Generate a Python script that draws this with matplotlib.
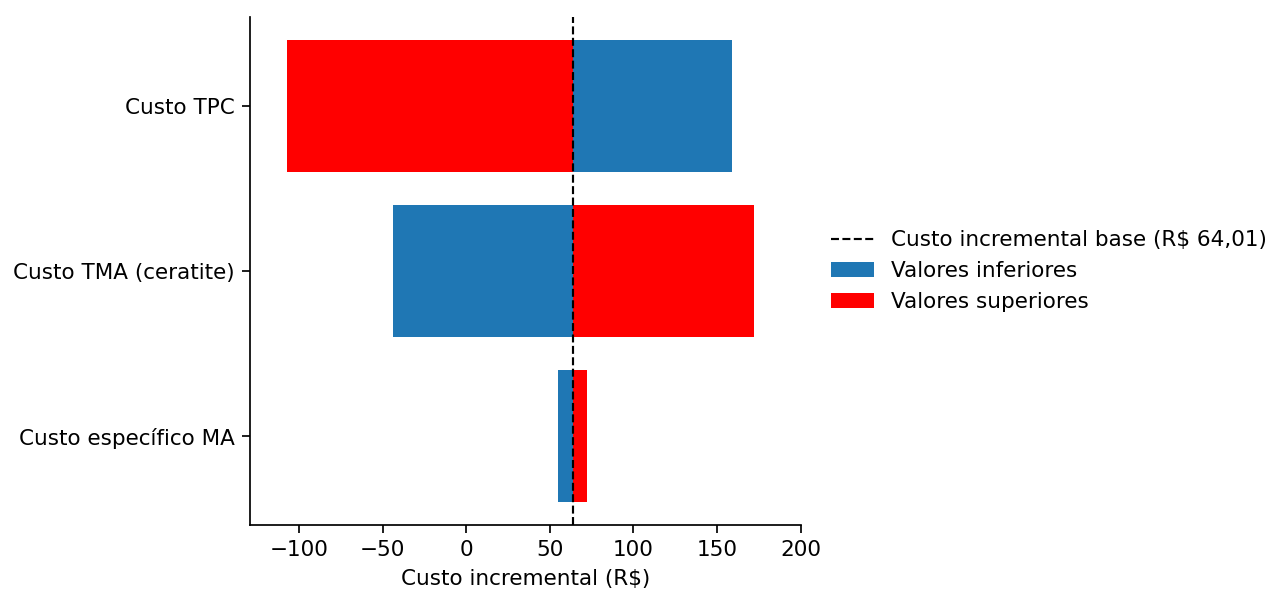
import numpy as np
import matplotlib.pyplot as plt

categorias = ['Custo específico MA', 'Custo TMA (ceratite)', 'Custo TPC']
valores_inferiores = [55.1, -43.7, 158.7]
valores_superiores = [72.5, 171.9, -107.2]
base = 64.01

DPI = 155
fig, ax = plt.subplots(figsize=(1269 / DPI, 590 / DPI), dpi=DPI)
fig.subplots_adjust(left=0.197, right=0.631, top=0.971, bottom=0.110)

y = np.arange(len(categorias))
inf = np.array(valores_inferiores)
sup = np.array(valores_superiores)

ax.barh(y, inf - base, left=base, height=0.8, color='#1f77b4', label='Valores inferiores')
ax.barh(y, sup - base, left=base, height=0.8, color='red', label='Valores superiores')
ax.axvline(base, color='black', linestyle='--', linewidth=1,
           label='Custo incremental base (R$ 64,01)')

ax.set_yticks(y)
ax.set_yticklabels(categorias)
ax.set_xlim(-129.3, 200)
ax.set_xticks([-100, -50, 0, 50, 100, 150, 200])
ax.set_xlabel('Custo incremental (R$)')
ax.spines['top'].set_visible(False)
ax.spines['right'].set_visible(False)

ax.legend(loc='center left', bbox_to_anchor=(1.02, 0.5), frameon=False)

fig.savefig('out.png', dpi=DPI)
